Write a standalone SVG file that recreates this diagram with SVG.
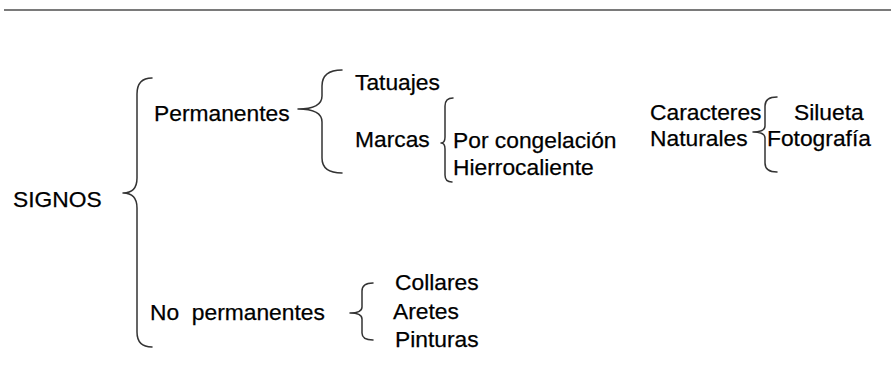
<svg xmlns="http://www.w3.org/2000/svg" width="891" height="381" viewBox="0 0 891 381">
<style>
text{font-family:"Liberation Sans",Arial,sans-serif;font-size:22.8px;fill:#000;stroke:#000;stroke-width:0.25;white-space:pre}
.br{fill:none;stroke:#333;stroke-width:1.5;stroke-linecap:round;stroke-linejoin:round}
</style>
<rect width="891" height="381" fill="#fff"/>
<line x1="4" y1="10" x2="891" y2="10" stroke="#7a7a7a" stroke-width="2"/>
<g id="connectors">
<path class="br" d="M152,78 Q137,78 137,94 L137,178 Q137,193 123,193 Q137,193 137,208 L137,332 Q137,347 152,347"/>
<path class="br" d="M342,70 Q322,70 322,86 L322,96 Q322,109 298,109 Q322,109 322,122 L322,158 Q322,173 342,173"/>
<path class="br" d="M453,98 Q445,98 445,106 L445,137 Q445,143 441,143 Q445,143 445,149 L445,175 Q445,182 452,182"/>
<path class="br" d="M777,97 Q765,97 765,106 L765,126 Q765,132 753,132 Q765,132 765,138 L765,163 Q765,172 777,172"/>
<path class="br" d="M373,283 Q362,283 362,291 L362,307 Q362,313 350,313 Q362,313 362,319 L362,333 Q362,340 373,340"/>
</g>
<g id="signos"><text x="13" y="207">SIGNOS</text></g>
<g id="permanentes"><text x="154" y="121">Permanentes</text></g>
<g id="no-permanentes"><text x="150" y="320">No  permanentes</text></g>
<g id="tatuajes"><text x="355" y="90">Tatuajes</text></g>
<g id="marcas"><text x="355" y="147">Marcas</text></g>
<g id="por-congelacion"><text x="453" y="148">Por congelación</text></g>
<g id="hierrocaliente"><text x="453" y="175">Hierrocaliente</text></g>
<g id="caracteres-naturales"><text x="650" y="120">Caracteres</text><text x="650" y="146">Naturales</text></g>
<g id="silueta"><text x="794" y="120">Silueta</text></g>
<g id="fotografia"><text x="767" y="146">Fotografía</text></g>
<g id="collares"><text x="395" y="290">Collares</text></g>
<g id="aretes"><text x="393" y="319">Aretes</text></g>
<g id="pinturas"><text x="395" y="347">Pinturas</text></g>
</svg>
